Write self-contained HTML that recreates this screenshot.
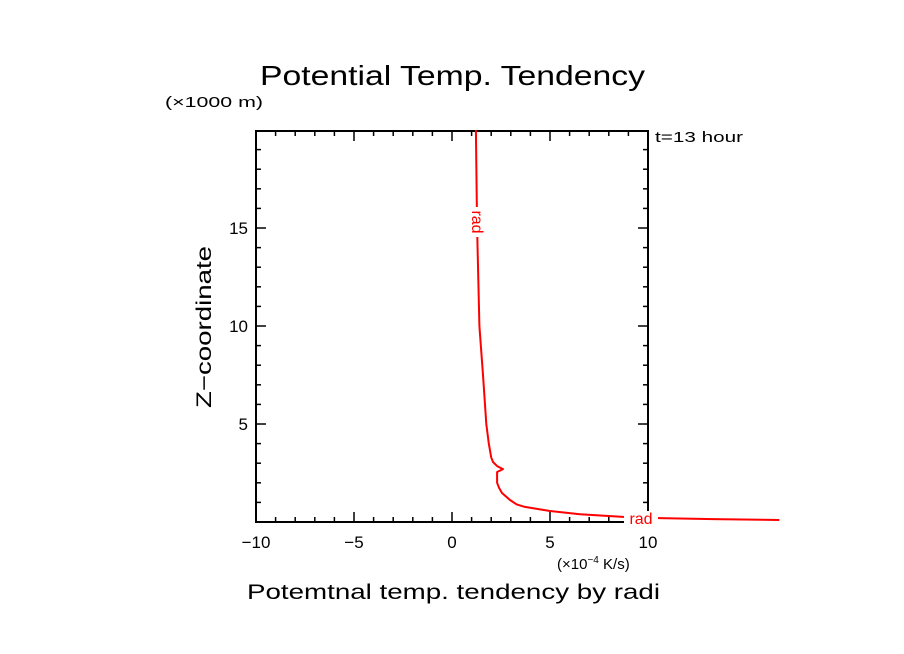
<!DOCTYPE html>
<html><head><meta charset="utf-8"><style>
html,body{margin:0;padding:0;background:#fff;}
svg{display:block;font-family:"Liberation Sans","DejaVu Sans",sans-serif;}
</style></head><body>
<svg id="chart" width="904" height="654" viewBox="0 0 904 654" xmlns="http://www.w3.org/2000/svg">
<rect width="904" height="654" fill="#fff"/>
<text x="260" y="85" font-size="28" textLength="385" lengthAdjust="spacingAndGlyphs" fill="#000">Potential Temp. Tendency</text>
<text x="165" y="107" font-size="15" textLength="98" lengthAdjust="spacingAndGlyphs" fill="#000">(×1000 m)</text>
<text x="655" y="142" font-size="15" textLength="88" lengthAdjust="spacingAndGlyphs" fill="#000">t=13 hour</text>
<text transform="translate(211,327) rotate(-90)" font-size="21" text-anchor="middle" textLength="162" lengthAdjust="spacingAndGlyphs" fill="#000">Z−coordinate</text>
<text x="557" y="569" font-size="15" fill="#000">(×10<tspan font-size="10" dy="-6">−4</tspan><tspan dy="6"> K/s)</tspan></text>
<text x="247" y="599" font-size="21" textLength="413" lengthAdjust="spacingAndGlyphs" fill="#000">Potemtnal temp. tendency by radi</text>
<g id="axes"></g>
<g id="series"></g>
</svg>
<script>
const xTicks = [-10, -5, 0, 5, 10];
const yTicks = [5, 10, 15];
const zValues = [20, 15, 10, 7.5, 5, 4, 3.3, 3.06, 2.85, 2.7, 2.55, 2.0, 1.75, 1.48, 1.12, 0.9, 0.77, 0.56, 0.4, 0.26, 0.2, 0.15, 0.1];
const radValues = [1.22, 1.28, 1.4, 1.58, 1.75, 1.88, 2.0, 2.09, 2.3, 2.6, 2.3, 2.3, 2.4, 2.55, 2.96, 3.3, 3.72, 5.0, 6.53, 8.72, 10.6, 13.3, 16.7];

const L=256,R=648,T=131,B=522,xMin=-10,xMax=10,yMin=0,yMax=19.95;
const sx=v=>L+(v-xMin)/(xMax-xMin)*(R-L);
const sy=v=>B-(v-yMin)/(yMax-yMin)*(B-T);
const NS="http://www.w3.org/2000/svg";
const axes=document.getElementById('axes');
function mk(tag,attrs,parent){const e=document.createElementNS(NS,tag);for(const k in attrs)e.setAttribute(k,attrs[k]);parent.appendChild(e);return e;}

const frame=mk('rect',{x:L,y:T,width:R-L,height:B-T,fill:'none',stroke:'#000','stroke-width':2},axes);



for(let v=xMin;v<=xMax;v++){
  const major=v%5===0, len=major?10:5, x=sx(v);
  const t1=mk('line',{x1:x,y1:B,x2:x,y2:B-len,stroke:'#000','stroke-width':1.5},axes);
  
  
  const t2=mk('line',{x1:x,y1:T,x2:x,y2:T+len,stroke:'#000','stroke-width':1.5},axes);
  
  
}
for(let v=1;v<=19;v++){
  const major=v%5===0, len=major?10:5, y=sy(v);
  const t1=mk('line',{x1:L,y1:y,x2:L+len,y2:y,stroke:'#000','stroke-width':1.5},axes);
  
  
  const t2=mk('line',{x1:R,y1:y,x2:R-len,y2:y,stroke:'#000','stroke-width':1.5},axes);
  
  
}
xTicks.forEach(v=>{
  const t=mk('text',{x:sx(v),y:548,'font-size':17,'text-anchor':'middle',fill:'#000'},axes);
  t.textContent=(v<0?'−':'')+Math.abs(v);
  
  
});
yTicks.forEach(v=>{
  const t=mk('text',{x:248,y:sy(v)+6,'font-size':17,'text-anchor':'end',fill:'#000'},axes);
  t.textContent=v;
  
  
});

const series=document.getElementById('series');
const d=zValues.map((z,i)=>(i?'L':'M')+sx(radValues[i]).toFixed(1)+','+sy(z).toFixed(1)).join(' ');
const path=mk('path',{d:d,fill:'none',stroke:'#f00','stroke-width':2,'stroke-linejoin':'round'},series);



const g1=mk('rect',{x:624,y:511,width:34,height:14,fill:'#fff'},series);


const l1=mk('text',{x:641,y:524,'font-size':16,'text-anchor':'middle',fill:'#f00'},series);
l1.textContent='rad';


const g2=mk('rect',{x:470,y:207,width:14,height:30,fill:'#fff'},series);


const l2=mk('text',{transform:'translate(472,222) rotate(90)','font-size':16,'text-anchor':'middle',fill:'#f00'},series);
l2.textContent='rad';


</script>
</body></html>
